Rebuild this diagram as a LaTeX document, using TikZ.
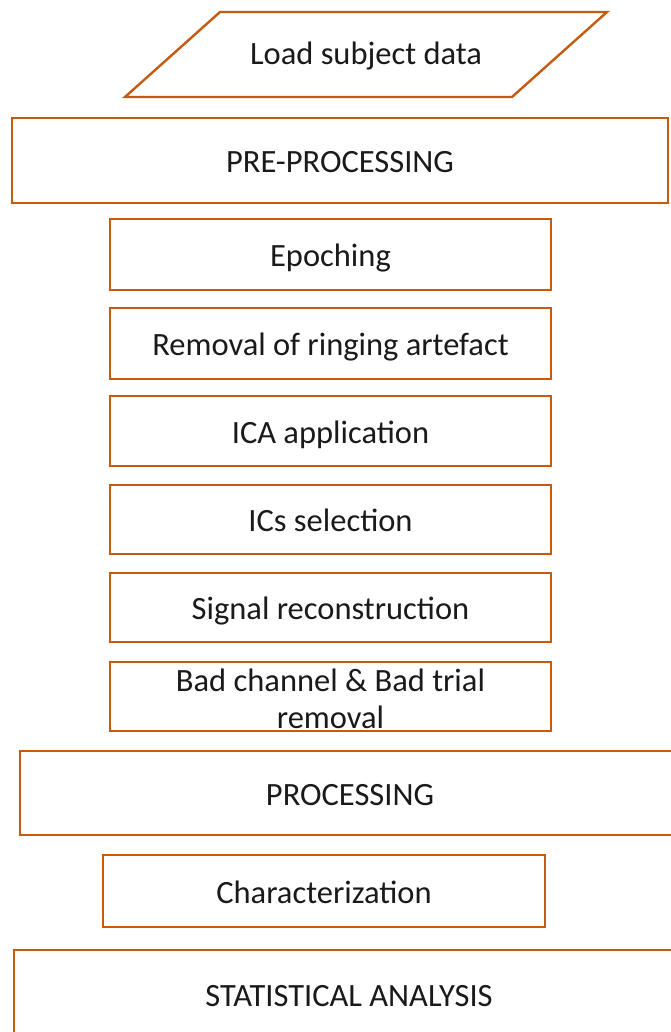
\documentclass[tikz,border=0pt]{standalone}
\usepackage{fontspec}
\setmainfont{Carlito}
\definecolor{boxline}{HTML}{C55A11}
\definecolor{txt}{HTML}{1A1A1A}
\begin{document}
\begin{tikzpicture}[x=1pt,y=-1pt,
  line/.style={draw=boxline,line width=2.4pt},
  box/.style={line,rectangle,inner sep=0pt,text=txt,font=\fontsize{32.5}{37}\selectfont,align=center,text height=26pt,text depth=2pt},
  lbl/.style={text=txt,font=\fontsize{32.5}{37}\selectfont,inner sep=0pt}]
\clip (0,0) rectangle (671,1032);
\fill[white] (0,0) rectangle (671,1032);
% parallelogram
\draw[line,line join=miter] (125,97) -- (220,12) -- (607,12) -- (512,97) -- cycle;
\node[lbl] (load) at (366,56.5) {Load subject data};
\node[box,minimum width=656pt,minimum height=85pt] (pre) at (340,160.5) {PRE-PROCESSING};
\node[box,minimum width=441pt,minimum height=71pt] (epo) at (330.5,254.5) {Epoching};
\node[box,minimum width=441pt,minimum height=71pt] (ring) at (330.5,343.5) {Removal of ringing artefact};
\node[box,minimum width=441pt,minimum height=70pt] (ica) at (330.5,431) {ICA application};
\node[box,minimum width=441pt,minimum height=69pt] (ics) at (330.5,519.5) {ICs selection};
\node[box,minimum width=441pt,minimum height=69pt] (sig) at (330.5,607.5) {Signal reconstruction};
\node[box,minimum width=441pt,minimum height=69pt] (bad) at (330.5,696.5) {};
\node[lbl,align=center] (badt) at (330.5,699) {Bad channel \& Bad trial\\removal};
\node[box,minimum width=660pt,minimum height=84pt] (proc) at (350,793) {PROCESSING};
\node[box,minimum width=442pt,minimum height=72pt] (char) at (324,891) {Characterization};
\node[box,minimum width=670pt,minimum height=120pt] (stat) at (349,1010) {};
\node[lbl] (statt) at (349,996) {STATISTICAL ANALYSIS};
\end{tikzpicture}
\end{document}
